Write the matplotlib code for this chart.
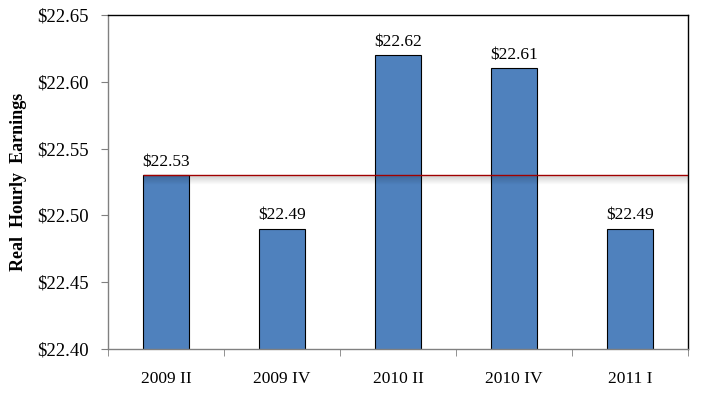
import matplotlib
matplotlib.use("Agg")
import matplotlib.pyplot as plt
import numpy as np

categories = ["2009 II", "2009 IV", "2010 II", "2010 IV", "2011 I"]
earnings = [22.53, 22.49, 22.62, 22.61, 22.49]
reference_level = 22.53
yticks = [22.40, 22.45, 22.50, 22.55, 22.60, 22.65]

plt.rcParams['font.family'] = ['Liberation Serif', 'DejaVu Serif']

fig = plt.figure(figsize=(7.01, 3.94), dpi=100)
ax = fig.add_axes([108/701, 1-349/394, (688-108)/701, (349-15)/394])

x = np.arange(len(categories))
bar_w = 0.4
ax.bar(x, earnings, width=bar_w, color="#4F81BD", edgecolor="black", linewidth=0.8, zorder=2)

for xi, v in zip(x, earnings):
    ax.annotate(f"${v:.2f}", (xi, v), xytext=(0, 4), textcoords="offset points",
                ha="center", va="bottom", fontsize=12.5)

# reference line with soft shadow
x0 = x[0] - bar_w/2
x1 = len(categories) - 0.5
px = 0.25/334
for k in range(1, 9):
    a = 0.12 * (1 - (k-1)/8)
    ax.plot([x0, x1], [reference_level - k*px]*2, color="black", alpha=a, lw=1.0,
            solid_capstyle="butt", zorder=3)
ax.plot([x0, x1], [reference_level]*2, color="#A00000", lw=1.0, zorder=4,
        solid_capstyle="butt")

ax.set_xlim(-0.5, len(categories) - 0.5)
ax.set_ylim(22.40, 22.65)
ax.set_yticks(yticks)
ax.set_yticklabels([f"${t:.2f}" for t in yticks], fontsize=13.5)
ax.set_xticks(x)
ax.set_xticklabels(categories, fontsize=12.5)
ax.set_xticks(np.arange(-0.5, len(categories), 1.0), minor=True)
ax.tick_params(axis="x", which="major", length=0, pad=16)
ax.tick_params(axis="x", which="minor", length=5, color="#808080", direction="out")
ax.tick_params(axis="y", length=5, color="#808080", direction="out", pad=9)

for s in ["left", "bottom"]:
    ax.spines[s].set_color("#808080")
for s in ["top", "right"]:
    ax.spines[s].set_color("black")
for s in ax.spines.values():
    s.set_linewidth(1.0)

ax.set_ylabel("Real  Hourly  Earnings", fontsize=13, fontweight="bold", labelpad=7)

fig.savefig("out.png", dpi=100)
